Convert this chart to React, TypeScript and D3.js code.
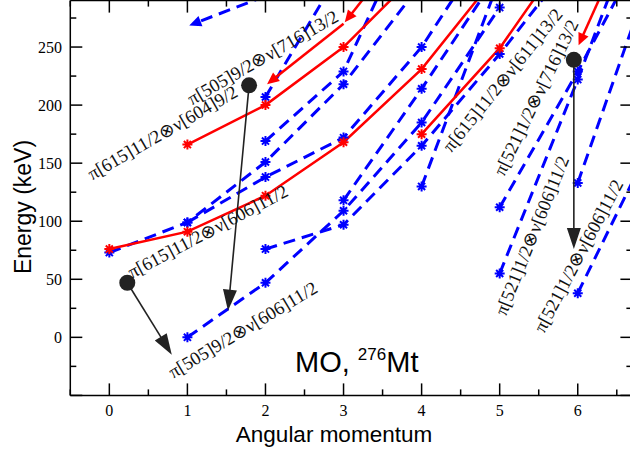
import React from 'react';
import * as d3 from 'd3';

const W = 630;
const H = 453;
const X_DOMAIN: [number, number] = [-0.5, 6.7];
const Y_DOMAIN: [number, number] = [-50, 290];
const xTicks = [0, 1, 2, 3, 4, 5, 6];
const yTicks = [0, 50, 100, 150, 200, 250];

type P = [number, number];

// red solid bands (spin, energy keV)
const redBand1: P[] = [[0, 76], [1, 91], [2, 122], [3, 168], [4, 231], [5, 315]];
const redBand2: P[] = [[1, 166], [2, 200], [3, 250], [4, 317]];
const redBand3: P[] = [[4, 175], [5, 249], [6, 345]];
// bands drawn with transition arrows
const redArrowBand1: P[] = [[2, 217], [3, 270], [4, 355]];
const redArrowBand2: P[] = [[6, 250], [7, 400]];
const blueArrowBand: P[] = [[1, 268], [2, 294]];
// blue dashed bands
const blueBand1: P[] = [[0, 73], [1, 99], [2, 151], [3, 218], [4, 305]];
const blueBand2: P[] = [[1, 99], [2, 138], [3, 172], [4, 250], [5, 353]];
const blueBand3: P[] = [[2, 169], [3, 229], [4, 375]];
const blueBand4: P[] = [[2, 207], [3, 320]];
const blueBand5: P[] = [[1, 0], [2, 47], [3, 109], [4, 185], [5, 284]];
const blueBand6: P[] = [[2, 76], [3, 97], [4, 165], [5, 244], [6, 330]];
const blueBand7: P[] = [[3, 118], [4, 214], [5, 315]];
const blueBand8: P[] = [[4, 130], [5, 309]];
const blueBand9: P[] = [[5, 55], [6, 222], [7, 400]];
const blueBand10: P[] = [[5, 112], [6, 229], [7, 355]];
const blueBand11: P[] = [[6, 133], [7, 325]];
const blueBand12: P[] = [[6, 38], [7, 175]];

const redBands = [redBand1, redBand2, redBand3];
const blueBands = [blueBand1, blueBand2, blueBand3, blueBand4, blueBand5, blueBand6, blueBand7, blueBand8, blueBand9, blueBand10, blueBand11, blueBand12];

// black arrows (dot -> arrow tip)
const arrowStarts: P[] = [[0.23, 47], [1.79, 217], [5.95, 239]];
const arrowEnds: P[] = [[0.8, -15], [1.52, 23], [5.95, 76]];

// configuration labels
const labelTexts = [
  'π[505]9/2⊗ν[716]13/2',
  'π[615]11/2⊗ν[604]9/2',
  'π[615]11/2⊗ν[606]11/2',
  'π[505]9/2⊗ν[606]11/2',
  'π[615]11/2⊗ν[611]13/2',
  'π[521]1/2⊗ν[716]13/2',
  'π[521]1/2⊗ν[606]11/2',
  'π[521]1/2⊗ν[606]11/2',
];
const labelAnchors: P[] = [[1.06, 199.7], [-0.22, 135.1], [0.29, 50.4], [0.82, -35.7], [4.38, 158.5], [5.06, 138.2], [5.08, 17.9], [5.57, 3.2]];
const labelAngles = [-30, -30, -28, -31, -51, -64, -68, -62];

const RED = '#ff0000';
const BLUE = '#0000ff';

export default function App() {
  const x = d3.scaleLinear().domain(X_DOMAIN).range([70.3, 632.4]);
  const y = d3.scaleLinear().domain(Y_DOMAIN).range([395.4, 0.6]);
  const line = d3.line<P>().x(d => x(d[0])).y(d => y(d[1]));
  const x0 = x(X_DOMAIN[0]);
  const x1 = x(X_DOMAIN[1]);
  const y0 = y(Y_DOMAIN[0]);
  const y1 = y(Y_DOMAIN[1]);

  const star = (p: P, r = 5) => {
    const cx = x(p[0]);
    const cy = y(p[1]);
    const d = r * 0.7071;
    return `M${cx - r},${cy}L${cx + r},${cy}M${cx},${cy - r}L${cx},${cy + r}M${cx - d},${cy - d}L${cx + d},${cy + d}M${cx - d},${cy + d}L${cx + d},${cy - d}`;
  };

  const inside = (p: P) => p[0] >= X_DOMAIN[0] && p[0] <= X_DOMAIN[1] && p[1] >= Y_DOMAIN[0] && p[1] <= Y_DOMAIN[1];

  const arrowBand = (pts: P[], color: string, dashed: boolean, key: string) => {
    const out: React.ReactNode[] = [];
    for (let i = 0; i < pts.length - 1; i++) {
      const ax = x(pts[i + 1][0]);
      const ay = y(pts[i + 1][1]);
      const bx = x(pts[i][0]);
      const by = y(pts[i][1]);
      const len = Math.hypot(bx - ax, by - ay);
      const ux = (bx - ax) / len;
      const uy = (by - ay) / len;
      const tipx = bx - ux * 2;
      const tipy = by - uy * 2;
      const hl = 12;
      const hw = 5.5;
      const basex = tipx - ux * hl;
      const basey = tipy - uy * hl;
      out.push(
        <line key={`${key}l${i}`} x1={ax} y1={ay} x2={basex + ux * 2} y2={basey + uy * 2} stroke={color} strokeWidth={dashed ? 3 : 2.5} strokeDasharray={dashed ? '12,7' : undefined} />
      );
      out.push(
        <polygon key={`${key}h${i}`} points={`${tipx},${tipy} ${basex - uy * hw},${basey + ux * hw} ${basex + uy * hw},${basey - ux * hw}`} fill={color} />
      );
    }
    return out;
  };

  const blackArrow = (s: P, e: P, i: number) => {
    const ax = x(s[0]);
    const ay = y(s[1]);
    const bx = x(e[0]);
    const by = y(e[1]);
    const len = Math.hypot(bx - ax, by - ay);
    const ux = (bx - ax) / len;
    const uy = (by - ay) / len;
    const hl = 21;
    const hw = 7;
    const basex = bx - ux * hl;
    const basey = by - uy * hl;
    return (
      <g key={`ba${i}`}>
        <line x1={ax} y1={ay} x2={basex + ux * 3} y2={basey + uy * 3} stroke="#222" strokeWidth={1.6} />
        <polygon points={`${bx},${by} ${basex - uy * hw},${basey + ux * hw} ${basex + uy * hw},${basey - ux * hw}`} fill="#222" />
        <circle cx={ax} cy={ay} r={8} fill="#222" />
      </g>
    );
  };

  const xMinor = d3.range(-0.5, 6.75, 0.5).filter(v => Math.abs(v - Math.round(v)) > 0.1);
  const yMajorAll = d3.range(-50, 291, 50);
  const yMinor = d3.range(-25, 291, 50);

  const tickFont = "'Liberation Serif', 'Times New Roman', serif";
  const sansFont = "'Liberation Sans', Arial, Helvetica, sans-serif";

  return (
    <svg width={W} height={H} style={{ position: 'fixed', left: 0, top: 0, background: '#fff' }}>
      <defs>
        <clipPath id="plot">
          <rect x={x0} y={y1} width={x1 - x0} height={y0 - y1} />
        </clipPath>
      </defs>
      <rect x={0} y={0} width={W} height={H} fill="#fff" />
      <g clipPath="url(#plot)">
        {blueBands.map((b, i) => (
          <path key={`bb${i}`} d={line(b) || ''} fill="none" stroke={BLUE} strokeWidth={3} strokeDasharray="12,7" />
        ))}
        {arrowBand(blueArrowBand, BLUE, true, 'bab')}
        {redBands.map((b, i) => (
          <path key={`rb${i}`} d={line(b) || ''} fill="none" stroke={RED} strokeWidth={2.5} />
        ))}
        {arrowBand(redArrowBand1, RED, false, 'rab1')}
        {arrowBand(redArrowBand2, RED, false, 'rab2')}
        {blueBands.map((b, i) =>
          b.filter(inside).map((p, j) => (
            <path key={`bm${i}_${j}`} d={star(p)} stroke={BLUE} strokeWidth={2} fill="none" />
          ))
        )}
        {redBands.map((b, i) =>
          b.filter(inside).map((p, j) => (
            <path key={`rm${i}_${j}`} d={star(p)} stroke={RED} strokeWidth={2} fill="none" />
          ))
        )}
        {arrowStarts.map((s, i) => blackArrow(s, arrowEnds[i], i))}
      </g>
      {labelTexts.map((t, i) => (
        <text
          key={`lab${i}`}
          transform={`translate(${x(labelAnchors[i][0])},${y(labelAnchors[i][1])}) rotate(${labelAngles[i]})`}
          fontFamily={tickFont}
          fontSize={18.5}
          fill="#111"
        >
          {t}
        </text>
      ))}
      {/* frame */}
      <g stroke="#000" strokeWidth={1.5}>
        <line x1={x0} y1={y0} x2={x1} y2={y0} />
        <line x1={x0} y1={y1} x2={x1} y2={y1} />
        <line x1={x0} y1={y0} x2={x0} y2={y1} />
        <line x1={x1} y1={y0} x2={x1} y2={y1} />
        {xTicks.map(v => (
          <g key={`xt${v}`}>
            <line x1={x(v)} x2={x(v)} y1={y0} y2={y0 - 12} />
            <line x1={x(v)} x2={x(v)} y1={y1} y2={y1 + 12} />
          </g>
        ))}
        {xMinor.map(v => (
          <g key={`xm${v}`}>
            <line x1={x(v)} x2={x(v)} y1={y0} y2={y0 - 6} />
            <line x1={x(v)} x2={x(v)} y1={y1} y2={y1 + 6} />
          </g>
        ))}
        {yMajorAll.map(v => (
          <g key={`yt${v}`}>
            <line x1={x0} x2={x0 + 12} y1={y(v)} y2={y(v)} />
            <line x1={x1} x2={x1 - 12} y1={y(v)} y2={y(v)} />
          </g>
        ))}
        {yMinor.map(v => (
          <g key={`ym${v}`}>
            <line x1={x0} x2={x0 + 6} y1={y(v)} y2={y(v)} />
            <line x1={x1} x2={x1 - 6} y1={y(v)} y2={y(v)} />
          </g>
        ))}
      </g>
      {xTicks.map(v => (
        <text key={`xl${v}`} x={x(v)} y={416} textAnchor="middle" fontFamily={tickFont} fontSize={16} fill="#000">
          {v}
        </text>
      ))}
      {yTicks.map(v => (
        <text key={`yl${v}`} x={62} y={y(v)} dy="0.35em" textAnchor="end" fontFamily={tickFont} fontSize={16} fill="#000">
          {v}
        </text>
      ))}
      <text x={334} y={442} textAnchor="middle" fontFamily={sansFont} fontSize={22.5} fill="#000">
        Angular momentum
      </text>
      <text transform="translate(31,207) rotate(-90)" textAnchor="middle" fontFamily={sansFont} fontSize={23} fill="#000">
        Energy (keV)
      </text>
      <text x={295} y={372} fontFamily={sansFont} fontSize={29} fill="#000">
        MO,{' '}
        <tspan fontSize={17} dy={-12}>276</tspan>
        <tspan dy={12}>Mt</tspan>
      </text>
    </svg>
  );
}
